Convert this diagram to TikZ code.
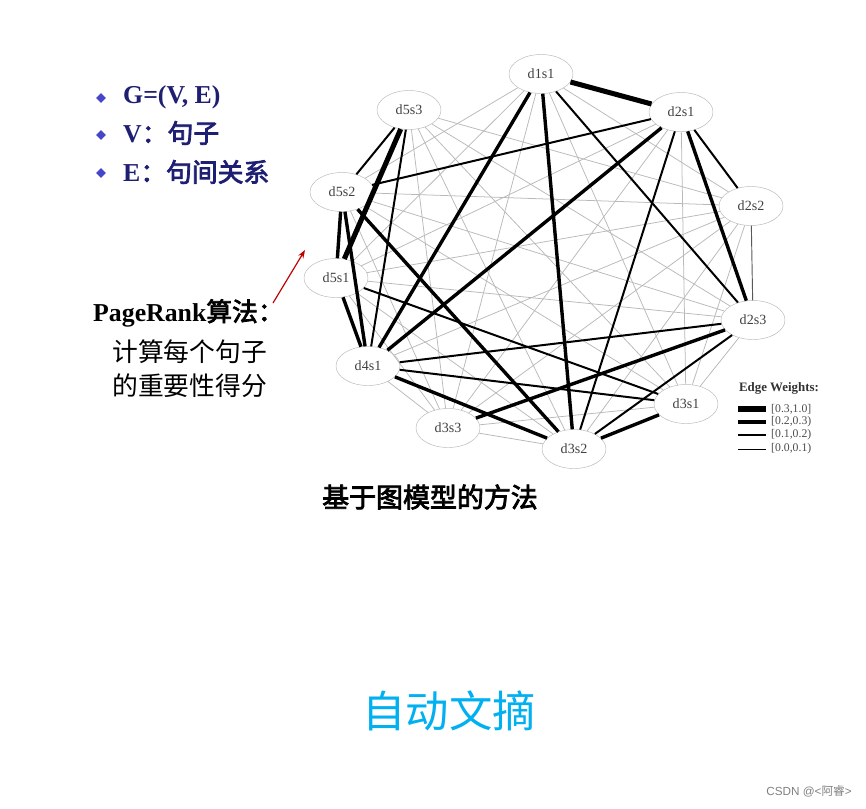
\documentclass[tikz,border=0pt]{standalone}
\usepackage{fontspec}
\setmainfont{Liberation Serif}
\newfontfamily\cjk[AutoFakeBold=3]{Noto Sans CJK SC}
\newfontfamily\wmfont{Liberation Sans}
\usetikzlibrary{arrows.meta,shapes.geometric,positioning}
\definecolor{navy}{HTML}{1E1E72}
\definecolor{bulblue}{HTML}{4646C8}
\definecolor{arrred}{HTML}{C00000}
\definecolor{titlecyan}{HTML}{00B0F0}
\newcommand{\bigtxt}{\fontsize{22}{26}\selectfont}

\begin{document}
\begin{tikzpicture}[x=0.03cm,y=-0.03cm,
    sent/.style={ellipse,draw=gray!55,fill=white,minimum width=1.92cm,
      minimum height=1.17cm,inner sep=0pt,text=black!75,
      font=\fontsize{12}{14}\selectfont},
    e0/.style={gray!55,line width=0.65pt},
    e1/.style={black!65,line width=0.8pt},
    e2/.style={black,line width=1.7pt},
    e3/.style={black,line width=2.9pt},
    e4/.style={black,line width=4.3pt},
    bul/.style={diamond,fill=bulblue,inner sep=0pt,minimum size=8.5pt},
    item/.style={anchor=west,inner sep=0pt,text=navy,font=\bigtxt}]
    \useasboundingbox (0,0) rectangle (866,808);

    \node[sent] (d1s1) at (541,74) {d1s1};
    \node[sent] (d2s1) at (681,112) {d2s1};
    \node[sent] (d2s2) at (751,206) {d2s2};
    \node[sent] (d2s3) at (753,320) {d2s3};
    \node[sent] (d3s1) at (686,404) {d3s1};
    \node[sent] (d3s2) at (574,449) {d3s2};
    \node[sent] (d3s3) at (448,428) {d3s3};
    \node[sent] (d4s1) at (368,366) {d4s1};
    \node[sent] (d5s1) at (336,278) {d5s1};
    \node[sent] (d5s2) at (342,192) {d5s2};
    \node[sent] (d5s3) at (409,110) {d5s3};

    \foreach \a/\b in {d1s1/d2s2,d1s1/d3s1,d1s1/d3s3,d1s1/d5s1,d1s1/d5s2,
      d2s1/d3s1,d2s1/d3s3,d2s1/d5s1,
      d2s2/d3s1,d2s2/d3s2,d2s2/d3s3,d2s2/d4s1,d2s2/d5s1,d2s2/d5s2,d2s2/d5s3,
      d2s3/d3s1,d2s3/d5s1,d2s3/d5s2,d2s3/d5s3,
      d3s1/d3s3,d3s1/d5s2,d3s1/d5s3,
      d3s2/d3s3,d3s2/d5s1,d3s2/d5s3,
      d3s3/d4s1,d3s3/d5s1,d3s3/d5s2,d3s3/d5s3}
      \draw[e0] (\a) -- (\b);
    \draw[e1] (d2s2) -- (d2s3);
    \foreach \a/\b in {d1s1/d2s3,d2s1/d5s2,d2s1/d3s2,d2s1/d2s2,d5s3/d5s2,
      d5s3/d4s1,d2s3/d4s1,d2s3/d3s2,d5s1/d3s1,d4s1/d3s1}
      \draw[e2] (\a) -- (\b);
    \foreach \a/\b in {d1s1/d4s1,d1s1/d3s2,d2s1/d4s1,d2s1/d2s3,d2s3/d3s3,
      d5s2/d3s2,d4s1/d3s2,d3s1/d3s2,d5s1/d4s1,d5s2/d5s1,d5s2/d4s1}
      \draw[e3] (\a) -- (\b);
    \draw[e4] (d1s1) -- (d2s1);
    \draw[e4] (d5s3) -- (d5s1);

    \node[font=\fontsize{11}{13}\selectfont\bfseries,text=black!80] (legend) at (779,388) {Edge Weights:};
    \foreach \w/\y/\t in {4.3pt/409/{[0.3,1.0]},2.9pt/422/{[0.2,0.3)},1.7pt/435/{[0.1,0.2)},0.8pt/449/{[0.0,0.1)}}{
      \coordinate (l\y) at (738,\y);
      \coordinate (r\y) at (766,\y);
      \draw[line width=\w] (l\y) -- (r\y);
      \node[anchor=west,inner sep=0pt,text=black!70,font=\fontsize{10}{12}\selectfont] (t\y) at (771,\y) {\t};
    }

    \node[bul] (b1) at (101,98) {};
    \node[bul] (b2) at (101,135) {};
    \node[bul] (b3) at (101,173) {};
    \node[item] (g) at (123,97) {\bfseries G=(V, E)};
    \node[item] (v) at (123,133) {\bfseries V{\cjk ：句子}};
    \node[item] (e) at (123,172) {\bfseries E{\cjk ：句间关系}};

    \node[anchor=west,inner sep=0pt,font=\bigtxt] (pr) at (93,313) {\bfseries PageRank{\cjk 算法：}};
    \node[anchor=west,inner sep=0pt,font=\bigtxt\cjk] (pr2) at (112,352) {计算每个句子};
    \node[anchor=west,inner sep=0pt,font=\bigtxt\cjk] (pr3) at (112,386) {的重要性得分};
    \coordinate (tail) at (273,303);
    \coordinate (head) at (305,250);
    \draw[arrred,line width=1pt,-{Stealth[length=7pt,width=5pt]}] (tail) -- (head);

    \node[font=\fontsize{23}{27}\selectfont\cjk\bfseries] (sub) at (430,497) {基于图模型的方法};
    \node[font=\fontsize{37}{42}\selectfont\cjk,text=titlecyan] (title) at (449,711) {自动文摘};
    \node[anchor=east,inner sep=0pt,font=\fontsize{10}{12}\selectfont\wmfont,text=black!50] (wm) at (852,791) {CSDN @<{\cjk 阿睿}>};
\end{tikzpicture}
\end{document}
